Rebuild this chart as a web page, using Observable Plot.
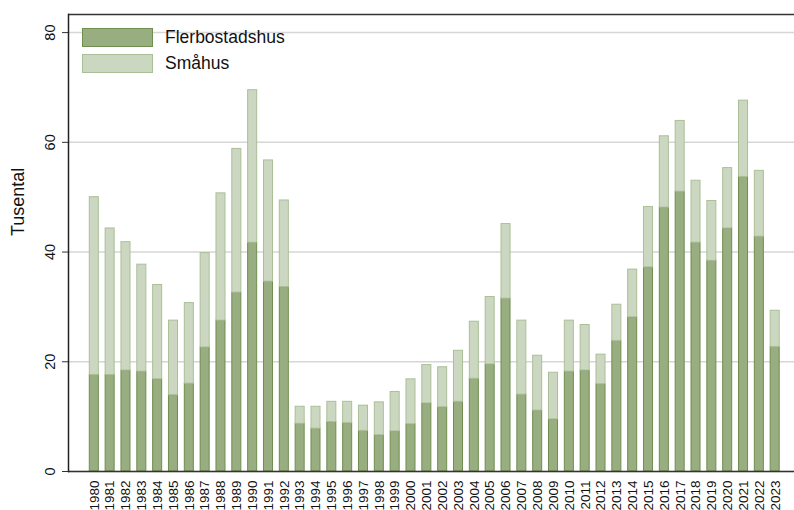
<!DOCTYPE html>
<html>
<head>
<meta charset="utf-8">
<script src="https://cdn.jsdelivr.net/npm/d3@7"></script>
<script src="https://cdn.jsdelivr.net/npm/@observablehq/plot@0.6"></script>
<style>
  html, body { margin: 0; padding: 0; background: #fff; }
  #wrap { position: relative; width: 794px; height: 510px; font-family: "Liberation Sans", Arial, Helvetica, sans-serif; }
  .legend { position: absolute; left: 82px; top: 24.5px; }
  .item { display: flex; align-items: center; height: 26px; }
  .sw { width: 69px; height: 17px; box-sizing: content-box; margin-right: 12px; }
  .lab { font-size: 17.5px; color: #111; }
  #wrap svg g[aria-label="y-axis tick label"] text { font-size: 14.5px !important; }
  #wrap svg g[aria-label="x-axis tick label"] text { font-size: 13.5px !important; }
  #wrap svg g[aria-label="text"] text { font-size: 18px !important; }
</style>
</head>
<body>
<div id="wrap"></div>
<script>
const years = d3.range(1980, 2024);
const flerbostadshus = [17.6,17.6,18.4,18.2,16.8,13.9,16.0,22.6,27.5,32.6,41.7,34.6,33.6,8.7,7.8,9.0,8.8,7.4,6.6,7.3,8.6,12.4,11.7,12.7,16.9,19.5,31.5,14.0,11.1,9.5,18.2,18.4,15.9,23.8,28.1,37.2,48.1,51.0,41.7,38.4,44.3,53.7,42.8,22.7];
const totals = [50.0,44.3,41.8,37.7,34.0,27.5,30.7,39.8,50.7,58.8,69.5,56.7,49.4,11.8,11.8,12.7,12.7,12.0,12.6,14.5,16.8,19.4,19.0,22.0,27.3,31.8,45.1,27.5,21.1,18.0,27.5,26.7,21.3,30.4,36.8,48.2,61.1,63.9,53.0,49.3,55.3,67.6,54.8,29.3];
const smahus = totals.map((t, i) => +(t - flerbostadshus[i]).toFixed(1));
const seriesNames = ["Flerbostadshus", "Småhus"];
const fillColors = ["#98ad80", "#ccd7c2"];
const strokeColors = ["#6f8e4f", "#abbf96"];
const yTicks = [0, 20, 40, 60, 80];
const yMax = 83.3;
const yLabel = "Tusental";

const rows = [];
years.forEach((y, i) => {
  rows.push({year: String(y), series: seriesNames[0], value: flerbostadshus[i]});
  rows.push({year: String(y), series: seriesNames[1], value: smahus[i]});
});

const font = '"Liberation Sans", Arial, Helvetica, sans-serif';

const chart = Plot.plot({
  width: 794,
  height: 510,
  marginTop: 14,
  marginBottom: 39,
  marginLeft: 68,
  marginRight: 0,
  style: {fontFamily: font, color: "#111", background: "#fff"},
  x: {type: "band", domain: years.map(String), paddingInner: 0.43, paddingOuter: 1.14, align: 0.59, label: null},
  y: {domain: [0, yMax], label: null},
  color: {domain: seriesNames, range: fillColors},
  marks: [
    Plot.gridY(yTicks, {stroke: "#d6d6d6", strokeOpacity: 1, strokeWidth: 1.5}),
    Plot.barY(rows, {
      x: "year", y: "value", fill: "series",
      stroke: d => strokeColors[seriesNames.indexOf(d.series)],
      strokeWidth: 1, order: seriesNames
    }),
    Plot.ruleY([0], {stroke: "#333", strokeWidth: 1.5}),
    Plot.ruleY([yMax], {stroke: "#333", strokeWidth: 1.5}),
    Plot.axisY(yTicks, {anchor: "left", tickSize: 6, tickPadding: 8, tickRotate: -90, fontSize: 14.5, label: null, stroke: "#333"}),
    Plot.axisX({anchor: "bottom", tickSize: 0, tickPadding: 9, tickRotate: -90, fontSize: 13.5, label: null}),
    Plot.frame({anchor: "left", stroke: "#222", strokeWidth: 1.5}),
    Plot.text([yLabel], {frameAnchor: "left", rotate: -90, dx: -50, dy: -7, fontSize: 18, fill: "#111"})
  ]
});

const wrap = document.getElementById("wrap");
wrap.appendChild(chart);

const legend = document.createElement("div");
legend.className = "legend";
seriesNames.forEach((name, i) => {
  const item = document.createElement("div");
  item.className = "item";
  const sw = document.createElement("div");
  sw.className = "sw";
  sw.style.background = fillColors[i];
  sw.style.border = "1px solid " + strokeColors[i];
  const lab = document.createElement("span");
  lab.className = "lab";
  lab.textContent = name;
  item.appendChild(sw);
  item.appendChild(lab);
  legend.appendChild(item);
});
wrap.appendChild(legend);
</script>
</body>
</html>
